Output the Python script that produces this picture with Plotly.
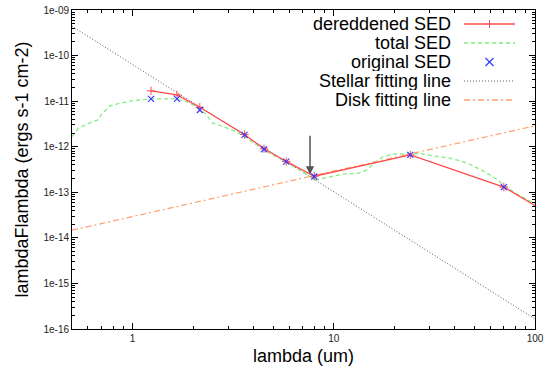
import math
import plotly.graph_objects as go

# ---------------- data ----------------
band_x = [1.235, 1.662, 2.159, 3.6, 4.5, 5.8, 8.0, 24.0, 70.0]
original_sed = [1.12e-11, 1.12e-11, 6.4e-12, 1.82e-12, 8.8e-13, 4.7e-13, 2.22e-13, 6.6e-13, 1.30e-13]

dered_x = [1.235, 1.662, 2.159, 3.6, 4.5, 5.8, 8.0, 24.0, 70.0, 160.0]
dered_sed = [1.68e-11, 1.37e-11, 7.35e-12, 1.85e-12, 9.0e-13, 4.75e-13, 2.25e-13, 6.6e-13, 1.30e-13, 1.5e-14]

total_x = [0.5, 0.538, 0.607, 0.671, 0.698, 0.771, 0.87, 1.0, 1.245, 1.65, 1.86, 2.14,
           2.3, 2.5, 2.75, 3.14, 3.52, 4.5, 5.8, 7.74, 8.18, 9.19, 11.1, 13.2, 14.6,
           16.3, 17.6, 19.8, 23.5, 26.9, 31.3, 38.0, 46.0, 55.7, 65.0, 71.5, 81.7, 100.0]
total_sed = [1.67e-12, 2.55e-12, 3.28e-12, 3.88e-12, 4.99e-12, 7.86e-12, 9.0e-12, 1.03e-11,
             1.12e-11, 1.12e-11, 9.8e-12, 7.0e-12, 5.3e-12, 3.3e-12, 2.9e-12, 2.3e-12,
             1.78e-12, 8.5e-13, 4.6e-13, 2.2e-13, 1.86e-13, 2.1e-13, 2.5e-13, 2.6e-13,
             3.1e-13, 4.7e-13, 6.1e-13, 6.9e-13, 7.0e-13, 7.1e-13, 6.3e-13, 5.6e-13,
             4.4e-13, 2.9e-13, 1.9e-13, 1.34e-13, 9.0e-14, 5.6e-14]

stellar_x = [0.5, 100.0]
stellar_y = [4.4e-10, 1.66e-16]

disk_x = [0.5, 100.0]
disk_y = [1.47e-14, 2.88e-12]

arrow_x = 7.62
arrow_y_tail = 1.88e-12
arrow_y_tip = 2.45e-13

x_tickvals = [1, 10, 100]
x_ticktext = ["1", "10", "100"]
y_tickvals = [1e-16, 1e-15, 1e-14, 1e-13, 1e-12, 1e-11, 1e-10, 1e-9]
y_ticktext = ["1e-16", "1e-15", "1e-14", "1e-13", "1e-12", "1e-11", "1e-10", "1e-09"]

legend_names = ["dereddened SED", "total SED", "original SED",
                "Stellar fitting line", "Disk fitting line"]

# ---------------- styles ----------------
RED = "#ff4a4a"
GREEN = "#7ef07e"
BLUE = "#3a3aff"
GRAY = "#555555"
ORANGE = "#ff9f70"
FONT = "Liberation Sans, Arial, sans-serif"

W, H = 545, 374
L, R, T, B = 72, 10, 10, 45
PW, PH = W - L - R, H - T - B


def px(xp):
    return (xp - L) / PW


def py(yp):
    return (H - B - yp) / PH


fig = go.Figure()

fig.add_trace(go.Scatter(x=stellar_x, y=stellar_y, mode="lines",
                         line=dict(color=GRAY, width=1, dash="1px,2px"), showlegend=False))
fig.add_trace(go.Scatter(x=disk_x, y=disk_y, mode="lines",
                         line=dict(color=ORANGE, width=1.2, dash="6px,3px,2px,3px"),
                         showlegend=False))
fig.add_trace(go.Scatter(x=total_x, y=total_sed, mode="lines",
                         line=dict(color=GREEN, width=1.3, dash="4px,3px"), showlegend=False))
fig.add_trace(go.Scatter(x=dered_x, y=dered_sed, mode="lines+markers",
                         line=dict(color=RED, width=1.3),
                         marker=dict(symbol="cross-thin", size=6, color=RED,
                                     line=dict(color=RED, width=1)),
                         showlegend=False))
fig.add_trace(go.Scatter(x=band_x, y=original_sed, mode="markers",
                         marker=dict(symbol="x-thin", size=6, color=BLUE,
                                     line=dict(color=BLUE, width=1.2)),
                         showlegend=False))

# arrow
fig.add_annotation(x=math.log10(arrow_x), y=math.log10(arrow_y_tip),
                   ax=math.log10(arrow_x), ay=math.log10(arrow_y_tail),
                   xref="x", yref="y", axref="x", ayref="y",
                   showarrow=True, arrowhead=2, arrowsize=1.1, arrowwidth=1.5,
                   arrowcolor="#555555", text="")

# manual gnuplot-style legend
row_y = [24, 43, 62, 81, 100]
text_right = 452
s0, s1, smid = 464, 515, 489.5
styles = [(RED, "solid", 1.3), (GREEN, "4px,3px", 1.5), (None, None, None),
          (GRAY, "1px,2px", 1), (ORANGE, "6px,3px,2px,3px", 1.3)]
for name, yy, st in zip(legend_names, row_y, styles):
    fig.add_annotation(x=px(text_right), y=py(yy), xref="paper", yref="paper",
                       text=name, showarrow=False, xanchor="right", yanchor="middle",
                       borderpad=0, height=18, valign="middle",
                       font=dict(family=FONT, size=18, color="black"))
    col, dash, wd = st
    if col is not None:
        fig.add_shape(type="line", xref="paper", yref="paper",
                      x0=px(s0), x1=px(s1), y0=py(yy), y1=py(yy),
                      line=dict(color=col, dash=dash, width=wd))
# + on dereddened sample
fig.add_shape(type="line", xref="paper", yref="paper",
              x0=px(smid), x1=px(smid), y0=py(row_y[0] - 4), y1=py(row_y[0] + 4),
              line=dict(color=RED, width=1))
# x for original sample
for dy in (1, -1):
    fig.add_shape(type="line", xref="paper", yref="paper",
                  x0=px(smid - 4), x1=px(smid + 4),
                  y0=py(row_y[2] - 4 * dy), y1=py(row_y[2] + 4 * dy),
                  line=dict(color=BLUE, width=1.2))

x_minor = [m * 10 ** k for k in (-1, 0, 1) for m in range(2, 10) if 0.5 <= m * 10 ** k <= 100]
y_minor = [m * 10.0 ** k for k in range(-16, -9) for m in range(2, 10)]

axis_common = dict(showline=True, linecolor="black", linewidth=1, mirror="ticks",
                   ticks="inside", ticklen=6, tickcolor="black", showgrid=False,
                   zeroline=False,
                   tickfont=dict(family=FONT, size=10, color="#222"))

fig.update_xaxes(type="log", range=[math.log10(0.5), 2], tickmode="array",
                 tickvals=x_tickvals, ticktext=x_ticktext,
                 minor=dict(tickmode="array", tickvals=x_minor, ticks="inside",
                            ticklen=3, tickcolor="black", showgrid=False),
                 title=dict(text="lambda (um)", standoff=6,
                            font=dict(family=FONT, size=18, color="black")),
                 **axis_common)
fig.update_yaxes(type="log", range=[-16, -9], tickmode="array",
                 tickvals=y_tickvals, ticktext=y_ticktext,
                 minor=dict(tickmode="array", tickvals=y_minor, ticks="inside",
                            ticklen=3, tickcolor="black", showgrid=False),
                 title=dict(text="lambdaFlambda (ergs s-1 cm-2)", standoff=10,
                            font=dict(family=FONT, size=18, color="black")),
                 **axis_common)

fig.update_layout(width=W, height=H, margin=dict(l=L, r=R, t=T, b=B, autoexpand=False),
                  plot_bgcolor="white", paper_bgcolor="white", showlegend=False)

fig.write_html("out.html", config={"displayModeBar": False, "staticPlot": True},
               post_script="document.body.style.margin='0';document.body.style.overflow='hidden';")
